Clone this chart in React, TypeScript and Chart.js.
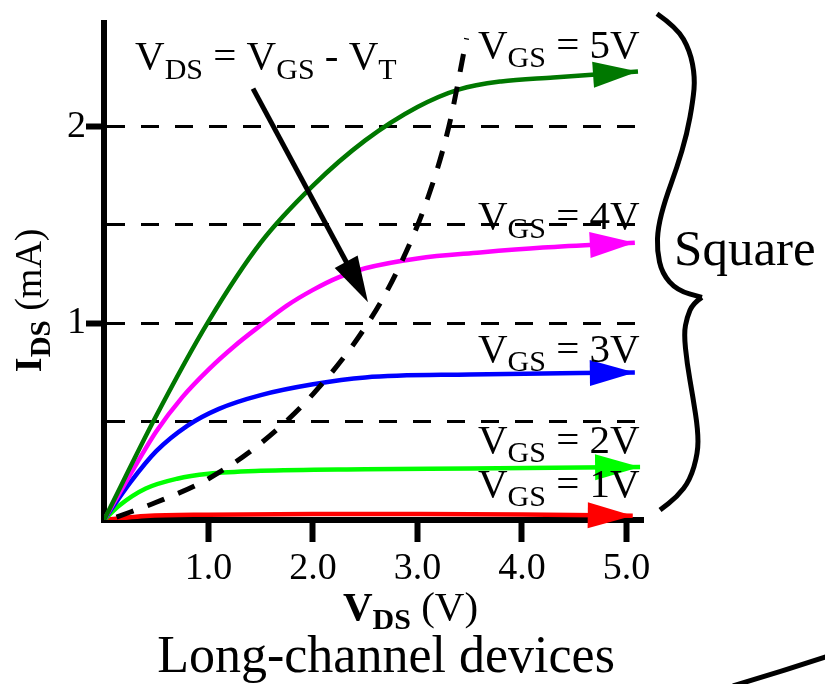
import React, { useEffect, useRef } from 'react';
import { Chart, registerables } from 'chart.js';

Chart.register(...registerables);

const SERIF = '"Liberation Serif", "Times New Roman", serif';

// Axes
const X_MIN = 0;
const X_MAX = 5.158;
const Y_MIN = 0;
const Y_MAX = 2.528;
const X_TICKS = [1, 2, 3, 4, 5];
const Y_GRID = [0.5, 1, 1.5, 2];
const Y_LABELED = [1, 2];

// I_DS (mA) vs V_DS (V) for each V_GS
const VGS5_VDS = [0, 0.5, 1.0, 1.5, 2.0, 2.5, 3.0, 3.4, 3.8, 4.3, 5.11];
const VGS5_IDS = [0, 0.53, 1.01, 1.41, 1.7, 1.93, 2.1, 2.19, 2.23, 2.25, 2.28];
const VGS4_VDS = [0, 0.25, 0.5, 0.75, 1.0, 1.25, 1.5, 1.75, 2.0, 2.25, 2.5, 3.0, 3.6, 4.2, 5.08];
const VGS4_IDS = [0, 0.23, 0.45, 0.625, 0.765, 0.885, 0.99, 1.09, 1.17, 1.235, 1.28, 1.33, 1.36, 1.385, 1.41];
const VGS3_VDS = [0, 0.25, 0.5, 0.8, 1.1, 1.5, 2.0, 2.5, 3.5, 5.08];
const VGS3_IDS = [0, 0.19, 0.35, 0.48, 0.565, 0.635, 0.69, 0.725, 0.74, 0.75];
const VGS2_VDS = [0, 0.15, 0.4, 0.7, 1.0, 1.5, 2.5, 3.5, 5.13];
const VGS2_IDS = [0, 0.075, 0.16, 0.21, 0.235, 0.25, 0.258, 0.262, 0.27];
const VGS1_VDS = [0, 0.4, 1.0, 2.0, 3.0, 4.0, 5.06];
const VGS1_IDS = [0, 0.02, 0.027, 0.03, 0.03, 0.028, 0.022];
// V_DS = V_GS - V_T locus
const SAT_VDS = [0.12, 0.5, 1.0, 1.5, 2.0, 2.5, 2.8, 3.1, 3.3, 3.47];
const SAT_IDS = [0.015, 0.09, 0.21, 0.39, 0.64, 0.98, 1.26, 1.64, 2.0, 2.45];

const VGS_LABELS = ['5V', '4V', '3V', '2V', '1V'];
const COLORS = ['#007800', '#ff00ff', '#0000ff', '#00ff00', '#ff0000'];

// Annotation anchors (data units)
const VGS_LABEL_X = 3.579;
const VGS_LABEL_Y = [2.35, 1.482, 0.802, 0.34, 0.117];
const LOCUS_TEXT = [0.297, 2.294];
const LOCUS_ARROW_FROM = [1.426, 2.193];
const LOCUS_ARROW_TO = [2.526, 1.107];
const SQUARE_TEXT = [5.455, 1.294];
const CAPTION = [2.699, -0.772];
const X_TITLE = [2.287, -0.508];
const Y_TITLE = [-0.603, 1.117];
const BRACE_X = [5.292, 5.483, 5.608, 5.656, 5.636, 5.579, 5.483, 5.368, 5.301, 5.292, 5.34, 5.483, 5.722, 5.636, 5.579, 5.55, 5.579, 5.636, 5.684, 5.684, 5.608, 5.483, 5.321];
const BRACE_Y = [2.574, 2.503, 2.386, 2.249, 2.132, 1.964, 1.792, 1.624, 1.487, 1.371, 1.254, 1.168, 1.132, 1.102, 1.03, 0.949, 0.797, 0.624, 0.457, 0.34, 0.203, 0.117, 0.051];
const BRACE_TIP = 12;
const CORNER_CURVE = [[6.019, -0.843], [6.469, -0.772], [6.909, -0.695]];

type Part = { t: string; s: number; b?: boolean; d?: number };

function fontOf(p: Part) {
  return `${p.b ? 'bold ' : ''}${p.s}px ${SERIF}`;
}

function rich(ctx: CanvasRenderingContext2D, x: number, y: number, parts: Part[], align = 'left') {
  let w = 0;
  parts.forEach((p) => {
    ctx.font = fontOf(p);
    w += ctx.measureText(p.t).width;
  });
  let cx = align === 'center' ? x - w / 2 : x;
  ctx.textAlign = 'left';
  ctx.textBaseline = 'alphabetic';
  ctx.fillStyle = '#000';
  parts.forEach((p) => {
    ctx.font = fontOf(p);
    ctx.fillText(p.t, cx, y + (p.d || 0));
    cx += ctx.measureText(p.t).width;
  });
}

function head(ctx: CanvasRenderingContext2D, x0: number, y0: number, x1: number, y1: number, len: number, wid: number, color: string) {
  const a = Math.atan2(y1 - y0, x1 - x0);
  const bx = x1 - len * Math.cos(a);
  const by = y1 - len * Math.sin(a);
  const nx = (-Math.sin(a) * wid) / 2;
  const ny = (Math.cos(a) * wid) / 2;
  ctx.beginPath();
  ctx.moveTo(x1, y1);
  ctx.lineTo(bx + nx, by + ny);
  ctx.lineTo(bx - nx, by - ny);
  ctx.closePath();
  ctx.fillStyle = color;
  ctx.fill();
}

function smooth(ctx: CanvasRenderingContext2D, pts: number[][]) {
  ctx.moveTo(pts[0][0], pts[0][1]);
  for (let i = 1; i < pts.length - 1; i++) {
    const mx = (pts[i][0] + pts[i + 1][0]) / 2;
    const my = (pts[i][1] + pts[i + 1][1]) / 2;
    ctx.quadraticCurveTo(pts[i][0], pts[i][1], mx, my);
  }
  const l = pts[pts.length - 1];
  ctx.lineTo(l[0], l[1]);
}

const annotationPlugin = {
  id: 'annotations',
  afterDatasetsDraw(chart: any) {
    const ctx: CanvasRenderingContext2D = chart.ctx;
    const xs = chart.scales.x;
    const ys = chart.scales.y;
    const P = (a: number, b: number) => [xs.getPixelForValue(a), ys.getPixelForValue(b)];
    ctx.save();

    // arrowheads at the end of each curve
    chart.data.datasets.forEach((ds: any, i: number) => {
      if (!ds.arrow) return;
      const pts = chart.getDatasetMeta(i).data;
      const a = pts[pts.length - 2];
      const b = pts[pts.length - 1];
      head(ctx, a.x, a.y, b.x, b.y, 45, 26, ds.borderColor);
    });

    // V_GS labels
    VGS_LABELS.forEach((lab, i) => {
      const [px, py] = P(VGS_LABEL_X, VGS_LABEL_Y[i]);
      rich(ctx, px, py, [
        { t: 'V', s: 41 },
        { t: 'GS', s: 30, d: 9 },
        { t: ' = ' + lab, s: 41 },
      ]);
    });

    // locus label and arrow
    {
      const [px, py] = P(LOCUS_TEXT[0], LOCUS_TEXT[1]);
      rich(ctx, px, py, [
        { t: 'V', s: 41 },
        { t: 'DS', s: 30, d: 10 },
        { t: ' = ', s: 41 },
        { t: 'V', s: 41 },
        { t: 'GS', s: 30, d: 10 },
        { t: ' - ', s: 41 },
        { t: 'V', s: 41 },
        { t: 'T', s: 30, d: 10 },
      ]);
      const [x0, y0] = P(LOCUS_ARROW_FROM[0], LOCUS_ARROW_FROM[1]);
      const [x1, y1] = P(LOCUS_ARROW_TO[0], LOCUS_ARROW_TO[1]);
      const a = Math.atan2(y1 - y0, x1 - x0);
      ctx.beginPath();
      ctx.moveTo(x0, y0);
      ctx.lineTo(x1 - 40 * Math.cos(a), y1 - 40 * Math.sin(a));
      ctx.strokeStyle = '#000';
      ctx.lineWidth = 5;
      ctx.lineCap = 'butt';
      ctx.stroke();
      head(ctx, x0, y0, x1, y1, 46, 26, '#000');
    }

    // brace
    {
      const pts = BRACE_X.map((v, i) => P(v, BRACE_Y[i]));
      ctx.beginPath();
      smooth(ctx, pts.slice(0, BRACE_TIP + 1));
      smooth(ctx, pts.slice(BRACE_TIP));
      ctx.strokeStyle = '#000';
      ctx.lineWidth = 5;
      ctx.lineJoin = 'miter';
      ctx.lineCap = 'butt';
      ctx.stroke();
      const [sx, sy] = P(SQUARE_TEXT[0], SQUARE_TEXT[1]);
      rich(ctx, sx, sy, [{ t: 'Square', s: 51 }]);
    }

    // axis titles
    {
      const [px, py] = P(X_TITLE[0], X_TITLE[1]);
      rich(ctx, px, py, [
        { t: 'V', s: 41, b: true },
        { t: 'DS', s: 30, b: true, d: 9 },
        { t: ' (V)', s: 41 },
      ]);
      const [qx, qy] = P(Y_TITLE[0], Y_TITLE[1]);
      ctx.save();
      ctx.translate(qx, qy);
      ctx.rotate(-Math.PI / 2);
      rich(ctx, 0, 0, [
        { t: 'I', s: 38, b: true },
        { t: 'DS', s: 29, b: true, d: 9 },
        { t: ' (mA)', s: 38 },
      ], 'center');
      ctx.restore();
    }

    // caption
    {
      const [px, py] = P(CAPTION[0], CAPTION[1]);
      rich(ctx, px, py, [{ t: 'Long-channel devices', s: 52 }], 'center');
    }

    // corner curve
    {
      const c = CORNER_CURVE.map((p) => P(p[0], p[1]));
      ctx.beginPath();
      ctx.moveTo(c[0][0], c[0][1]);
      ctx.quadraticCurveTo(c[1][0], c[1][1], c[2][0], c[2][1]);
      ctx.strokeStyle = '#000';
      ctx.lineWidth = 5;
      ctx.stroke();
    }

    ctx.restore();
  },
};

const mk = (xs: number[], ys: number[]) => xs.map((v, i) => ({ x: v, y: ys[i] }));

export default function App() {
  const ref = useRef<HTMLCanvasElement | null>(null);

  useEffect(() => {
    if (!ref.current) return;
    const series = [
      [VGS5_VDS, VGS5_IDS],
      [VGS4_VDS, VGS4_IDS],
      [VGS3_VDS, VGS3_IDS],
      [VGS2_VDS, VGS2_IDS],
      [VGS1_VDS, VGS1_IDS],
    ];
    const chart = new Chart(ref.current, {
      type: 'scatter',
      data: {
        datasets: [
          {
            label: 'VDS = VGS - VT',
            data: mk(SAT_VDS, SAT_IDS),
            showLine: true,
            borderColor: '#000',
            borderWidth: 5,
            borderDash: [18, 15],
            pointRadius: 0,
            cubicInterpolationMode: 'monotone',
          } as any,
          ...series.map((s, i) => ({
            label: 'VGS = ' + VGS_LABELS[i],
            data: mk(s[0], s[1]),
            showLine: true,
            borderColor: COLORS[i],
            borderWidth: 4.5,
            pointRadius: 0,
            cubicInterpolationMode: 'monotone',
            arrow: true,
          } as any)),
        ],
      },
      options: {
        responsive: false,
        animation: false,
        events: [],
        layout: { padding: { left: 0, top: 22, right: 182, bottom: 0 } },
        plugins: { legend: { display: false }, tooltip: { enabled: false } },
        scales: {
          x: {
            type: 'linear',
            min: X_MIN,
            max: X_MAX,
            afterFit: (s: any) => {
              s.height = 164;
            },
            afterBuildTicks: (s: any) => {
              s.ticks = X_TICKS.map((v) => ({ value: v }));
            },
            ticks: {
              callback: (v: any) => Number(v).toFixed(1),
              color: '#000',
              font: { family: SERIF, size: 38 },
              padding: 4,
              maxRotation: 0,
              autoSkip: false,
            },
            grid: { drawOnChartArea: false, drawTicks: true, tickLength: 22, tickWidth: 6, tickColor: '#000' },
            border: { display: true, color: '#000', width: 6 },
          },
          y: {
            type: 'linear',
            min: Y_MIN,
            max: Y_MAX,
            afterFit: (s: any) => {
              s.width = 104;
            },
            afterBuildTicks: (s: any) => {
              s.ticks = Y_GRID.map((v) => ({ value: v }));
            },
            ticks: {
              callback: (v: any) => (Y_LABELED.includes(v) ? String(v) : ''),
              color: '#000',
              font: { family: SERIF, size: 38 },
              padding: 0,
              autoSkip: false,
            },
            grid: {
              color: '#000',
              lineWidth: 3,
              tickLength: 18,
              tickWidth: 6,
              tickColor: (c: any) => (c.tick && Y_LABELED.includes(c.tick.value) ? '#000' : 'rgba(0,0,0,0)'),
            },
            border: { display: true, color: '#000', width: 6, dash: [18, 16] },
          },
        },
      } as any,
      plugins: [annotationPlugin],
    });
    return () => chart.destroy();
  }, []);

  return (
    <div style={{ position: 'absolute', left: 0, top: 0, width: 825, height: 684, background: '#fff' }}>
      <canvas ref={ref} width={825} height={684} style={{ display: 'block' }} />
    </div>
  );
}
